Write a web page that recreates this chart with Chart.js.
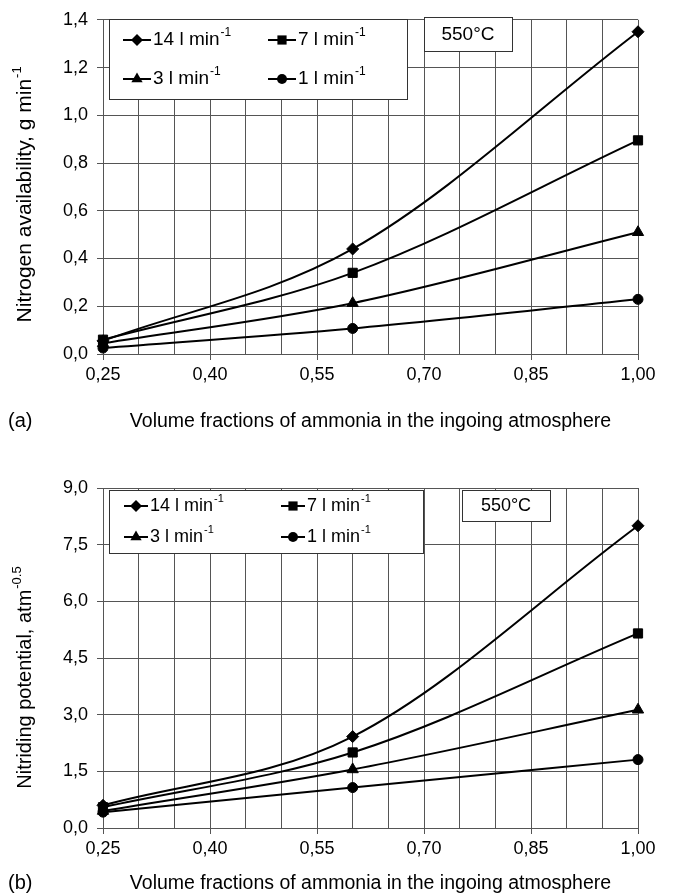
<!DOCTYPE html>
<html>
<head>
<meta charset="utf-8">
<script src="https://cdn.jsdelivr.net/npm/chart.js@4.4.1/dist/chart.umd.min.js"></script>
<style>
    body { margin: 0; background: #fff; }
    .panel { position: absolute; left: 0; width: 674px; }
</style>
</head>
<body>
<div class="panel" style="top:0;height:440px"><canvas id="chartA"></canvas></div>
<div class="panel" style="top:450px;height:445px"><canvas id="chartB"></canvas></div>
<script>
// x values: volume fraction of ammonia
const ammonia = [0.25, 0.60, 1.00];

// flow rates (legend), marker shape per flow
const flowLabels = ['14 l min', '7 l min', '3 l min', '1 l min'];
const flowMarkers = ['rectRot', 'rect', 'triangle', 'circle'];
const markerSizes = [6, 6.5, 6.5, 5];

// (a) nitrogen availability, g/min
const availability14 = [0.055, 0.44, 1.35];
const availability7 = [0.06, 0.34, 0.895];
const availability3 = [0.045, 0.213, 0.51];
const availability1 = [0.025, 0.107, 0.229];

// (b) nitriding potential, atm^-0.5
const potential14 = [0.60, 2.42, 8.00];
const potential7 = [0.55, 2.00, 5.15];
const potential3 = [0.45, 1.55, 3.13];
const potential1 = [0.42, 1.07, 1.81];

const FONT = 'Liberation Sans, Arial, sans-serif';
const GRID = '#555';

const comma = (v, d) => v.toFixed(d).replace('.', ',');
const isMajorX = v => Math.abs((v - 0.25) / 0.15 - Math.round((v - 0.25) / 0.15)) < 1e-6;

function makeDatasets(series) {
    return series.map((vals, i) => ({
        label: flowLabels[i],
        data: vals.map((y, j) => ({ x: ammonia[j], y: y })),
        borderColor: '#000',
        backgroundColor: '#000',
        borderWidth: 2,
        pointStyle: flowMarkers[i],
        pointRadius: markerSizes[i],
        pointBackgroundColor: '#000',
        pointBorderColor: '#000',
        pointBorderWidth: 1,
        cubicInterpolationMode: 'monotone', // closer to Excel's smoothed lines
        fill: false,
        clip: false
    }));
}

function drawMarker(ctx, style, x, y, r) {
    ctx.beginPath();
    if (style === 'circle') {
        ctx.arc(x, y, r, 0, Math.PI * 2);
    } else if (style === 'rect') {
        const s = r * Math.SQRT1_2;
        ctx.rect(x - s, y - s, 2 * s, 2 * s);
    } else if (style === 'rectRot') {
        ctx.moveTo(x, y - r); ctx.lineTo(x + r, y); ctx.lineTo(x, y + r); ctx.lineTo(x - r, y);
        ctx.closePath();
    } else if (style === 'triangle') {
        ctx.moveTo(x, y - r);
        ctx.lineTo(x + r * 0.866, y + r * 0.5);
        ctx.lineTo(x - r * 0.866, y + r * 0.5);
        ctx.closePath();
    }
    ctx.fill();
}

// text with a raised exponent
function supWidth(ctx, base, sup, size, supSize) {
    ctx.font = size + 'px ' + FONT;
    const a = ctx.measureText(base).width;
    ctx.font = supSize + 'px ' + FONT;
    return a + ctx.measureText(sup).width;
}
function drawSup(ctx, x, y, base, sup, size, supSize) {
    ctx.textBaseline = 'middle';
    ctx.textAlign = 'left';
    ctx.font = size + 'px ' + FONT;
    ctx.fillText(base, x, y);
    const w = ctx.measureText(base).width;
    ctx.font = supSize + 'px ' + FONT;
    ctx.fillText(sup, x + w + 1, y - size * 0.38);
}

const annotations = {
    id: 'annotations',
    afterDatasetsDraw(chart, args, o) {
        const ctx = chart.ctx;
        const area = chart.chartArea;
        ctx.save();

        // legend box
        const L = o.legend;
        ctx.fillStyle = '#fff';
        ctx.fillRect(L.x, L.y, L.w, L.h);
        ctx.strokeStyle = '#333';
        ctx.lineWidth = 1;
        ctx.strokeRect(L.x + 0.5, L.y + 0.5, L.w, L.h);
        flowLabels.forEach((name, i) => {
            const cx = L.cols[i % 2];
            const cy = L.rows[Math.floor(i / 2)];
            ctx.strokeStyle = '#000';
            ctx.lineWidth = 2;
            ctx.beginPath();
            ctx.moveTo(cx, cy); ctx.lineTo(cx + L.line, cy);
            ctx.stroke();
            ctx.fillStyle = '#000';
            drawMarker(ctx, flowMarkers[i], cx + L.line / 2, cy, markerSizes[i]);
            drawSup(ctx, cx + L.line + 2, cy, name, '-1', L.font, Math.round(L.font * 0.62));
        });

        // temperature box
        const T = o.temp;
        ctx.fillStyle = '#fff';
        ctx.fillRect(T.x, T.y, T.w, T.h);
        ctx.strokeStyle = '#333';
        ctx.lineWidth = 1;
        ctx.strokeRect(T.x + 0.5, T.y + 0.5, T.w, T.h);
        ctx.fillStyle = '#000';
        ctx.font = T.font + 'px ' + FONT;
        ctx.textAlign = 'center';
        ctx.textBaseline = 'middle';
        ctx.fillText('550°C', T.x + T.w / 2, T.y + T.h / 2 + 1);

        // rotated y title with exponent
        const Y = o.ytitle;
        const tw = supWidth(ctx, Y.base, Y.sup, Y.font, 13);
        ctx.save();
        ctx.translate(Y.x, (area.top + area.bottom) / 2 + Y.shift);
        ctx.rotate(-Math.PI / 2);
        drawSup(ctx, -tw / 2, 0, Y.base, Y.sup, Y.font, 13);
        ctx.restore();

        // panel letter
        ctx.font = '20px ' + FONT;
        ctx.textAlign = 'left';
        ctx.textBaseline = 'middle';
        ctx.fillText(o.letter.text, 8, o.letter.y);
        ctx.restore();
    }
};

function makeChart(id, series, yMax, yStep, yDec, geo) {
    return new Chart(document.getElementById(id).getContext('2d'), {
        type: 'line',
        data: { datasets: makeDatasets(series) },
        plugins: [annotations],
        options: {
            responsive: true,
            maintainAspectRatio: false,
            animation: false,
            layout: { padding: { left: 0, right: 36, top: geo.top, bottom: 0 } },
            scales: {
                x: {
                    type: 'linear',
                    min: 0.25,
                    max: 1.0,
                    afterFit: s => { s.height = geo.xHeight; },
                    border: { color: GRID },
                    grid: {
                        color: GRID,
                        lineWidth: 1,
                        tickLength: 6,
                        tickColor: c => (c.tick && isMajorX(c.tick.value)) ? GRID : 'rgba(0,0,0,0)'
                    },
                    ticks: {
                        stepSize: 0.05,
                        maxTicksLimit: 100,
                        autoSkip: false,
                        maxRotation: 0,
                        padding: 4,
                        color: '#000',
                        font: { family: FONT, size: 18 },
                        callback: v => isMajorX(v) ? comma(v, 2) : ''
                    },
                    title: {
                        display: true,
                        text: 'Volume fractions of ammonia in the ingoing atmosphere',
                        color: '#000',
                        font: { family: FONT, size: 19.5 },
                        padding: { top: 0, bottom: geo.titlePad }
                    }
                },
                y: {
                    min: 0,
                    max: yMax,
                    afterFit: s => { s.width = 103; },
                    border: { color: GRID },
                    grid: { color: GRID, lineWidth: 1, tickLength: 6, tickColor: GRID },
                    ticks: {
                        stepSize: yStep,
                        padding: 9,
                        color: '#000',
                        font: { family: FONT, size: 18 },
                        callback: v => comma(v, yDec)
                    }
                }
            },
            plugins: {
                legend: { display: false },
                tooltip: { enabled: false },
                annotations: geo.notes
            }
        }
    });
}

makeChart('chartA', [availability14, availability7, availability3, availability1], 1.4, 0.2, 1, {
    top: 16, xHeight: 86, titlePad: 7,
    notes: {
        legend: { x: 109, y: 19, w: 298, h: 80, rows: [40, 79], cols: [123, 268], line: 28, font: 19 },
        temp: { x: 424, y: 17, w: 88, h: 34, font: 19 },
        ytitle: { x: 25, shift: 8, base: 'Nitrogen availability, g min', sup: '-1', font: 21 },
        letter: { text: '(a)', y: 421 }
    }
});

makeChart('chartB', [potential14, potential7, potential3, potential1], 9, 1.5, 1, {
    top: 38, xHeight: 67, titlePad: 0,
    notes: {
        legend: { x: 109, y: 40, w: 314, h: 63, rows: [56, 87], cols: [124, 281], line: 24, font: 18 },
        temp: { x: 462, y: 40, w: 88, h: 31, font: 18 },
        ytitle: { x: 25, shift: 20, base: 'Nitriding potential, atm', sup: '-0.5', font: 20 },
        letter: { text: '(b)', y: 433 }
    }
});
</script>
</body>
</html>
